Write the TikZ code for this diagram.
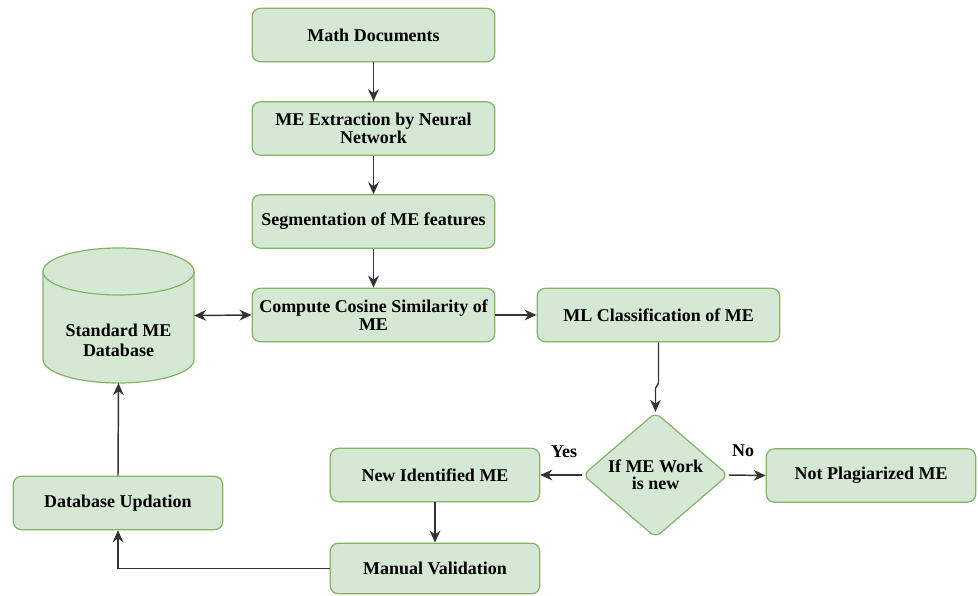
\documentclass[tikz,border=0pt]{standalone}
\usepackage{fontspec}
\setmainfont{Liberation Serif}
\usetikzlibrary{shapes.geometric,arrows.meta}
\definecolor{boxfill}{HTML}{D5E8D4}
\definecolor{boxline}{HTML}{82B366}
\definecolor{arrowgray}{HTML}{333333}
\tikzset{
  >={Stealth[length=9pt,width=8pt]},
  stepbox/.style={rectangle,rounded corners=6pt,draw=boxline,fill=boxfill,line width=0.9pt,
    minimum width=182pt,minimum height=40pt,inner sep=2pt,align=center,
    font=\fontsize{13.5}{13}\selectfont\bfseries},
  smallbox/.style={stepbox,minimum width=157pt},
  decision/.style={diamond,rounded corners=5pt,draw=boxline,fill=boxfill,line width=0.9pt,
    minimum width=109pt,minimum height=75pt,inner sep=0pt,align=center,
    font=\fontsize{13.5}{13}\selectfont\bfseries},
  arr/.style={draw=arrowgray,line width=1.1pt,->},
  tag/.style={font=\fontsize{13.5}{13}\selectfont\bfseries,inner sep=0pt}
}
\begin{document}
\begin{tikzpicture}[x=0.75pt,y=0.75pt,yscale=-1,xscale=1]
\useasboundingbox (0,0) rectangle (978,596);
% main column
\node[stepbox] (mathdoc) at (373.5,35) {Math Documents};
\node[stepbox] (extract) at (373.5,128.5) {ME Extraction by Neural\\Network};
\node[stepbox] (segment) at (373.5,221.5) {Segmentation of ME features};
\node[stepbox] (cosine) at (373.5,315) {Compute Cosine Similarity of\\ME};
\node[stepbox] (mlclass) at (658.5,315) {ML Classification of ME};
% decision and outcomes
\node[decision] (decide) at (655.5,475) {If ME Work\\is new};
\node[smallbox] (newme) at (435,475) {New Identified ME};
\node[smallbox] (notplag) at (871,475.5) {Not Plagiarized ME};
\node[smallbox,minimum height=38pt] (manual) at (435,568.5) {Manual Validation};
\node[smallbox] (dbupd) at (118,503) {Database Updation};
% database cylinder
\draw[draw=boxline,fill=boxfill,line width=0.9pt] (43,271.5) -- (43,359.5)
  arc[start angle=180,end angle=0,x radius=75.5,y radius=23.5] -- (194,271.5)
  arc[start angle=0,end angle=-180,x radius=75.5,y radius=23.5] -- cycle;
\draw[draw=boxline,line width=0.9pt] (43,271.5) arc[start angle=180,end angle=0,x radius=75.5,y radius=23.5];
\node[minimum width=113pt,minimum height=101pt,inner sep=0pt] (stddb) at (118.5,315.5) {};
\node[tag,align=center] (stddbtext) at (118.5,340) {Standard ME\\[2pt]Database};
% connectors
\draw[arr] (mathdoc) -- (extract);
\draw[arr] (extract) -- (segment);
\draw[arr] (segment) -- (cosine);
\draw[arr,<->] (stddb.east) -- (cosine.west);
\draw[arr] (cosine) -- (mlclass);
\draw[arr] (mlclass.south) -- ++(0,41) -- ++(-3,5) -- (decide.north);
\draw[arr] (decide.west) -- (newme.east);
\draw[arr] (decide.east) -- (notplag.west);
\draw[arr] (newme) -- (manual);
\draw[arr] (manual.west) -| (dbupd.south);
\draw[arr] (dbupd.north) -- (stddb.south);
\node[tag] (yes) at (564,452) {Yes};
\node[tag] (no) at (743,451) {No};
\end{tikzpicture}
\end{document}
